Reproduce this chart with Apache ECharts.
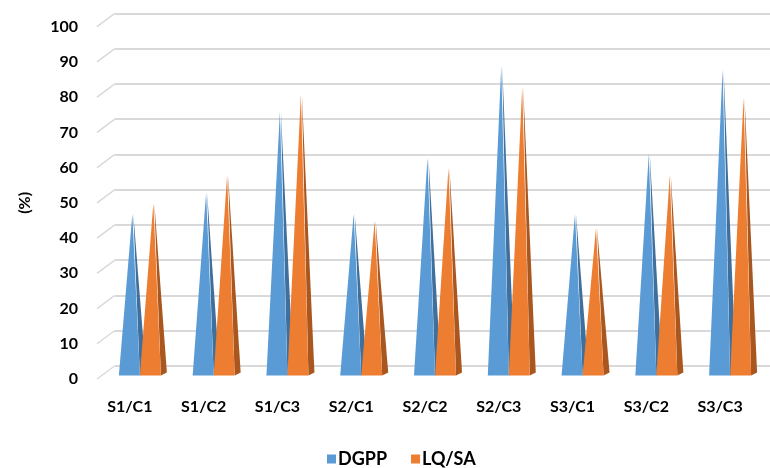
<!DOCTYPE html>
<html>
<head>
<meta charset="utf-8">
<script src="https://cdn.jsdelivr.net/npm/echarts@6/dist/echarts.min.js"></script>
<style>
  html, body { margin: 0; padding: 0; background: #fff; }
  #chart { width: 770px; height: 468px; }
</style>
</head>
<body>
<div id="chart"></div>
<script>
// categories and values
var categories = ['S1/C1', 'S1/C2', 'S1/C3', 'S2/C1', 'S2/C2', 'S2/C3', 'S3/C1', 'S3/C2', 'S3/C3'];
var dgpp = [45, 51, 74, 45, 61, 87, 45, 62, 86];
var lqsa = [48, 56, 79, 43, 58, 81, 41, 56, 78];
var yTicks = [0, 10, 20, 30, 40, 50, 60, 70, 80, 90, 100];

var FONT = 'Lato, "Liberation Sans", sans-serif';

// pyramid: front face + darker side face
function pyramid(off0, off1, face, side) {
  return function (params, api) {
    var c = api.coord([api.value(0), 0]);
    var t = api.coord([api.value(0), api.value(1)]);
    var base = c[1] - 3.5;
    var xL = c[0] + off0, xR = c[0] + off1;
    var tipX = xL + (xR - xL) * 0.64;
    var tipY = t[1] - 6.5;
    return {
      type: 'group',
      children: [
        {
          type: 'polygon',
          shape: { points: [[xR, base], [xR + 6, base - 3], [tipX + 1, tipY]] },
          style: { fill: side }
        },
        {
          type: 'polygon',
          shape: { points: [[xL, base], [xR, base], [tipX, tipY]] },
          style: { fill: face }
        }
      ]
    };
  };
}

// slanted lines joining the front labels to the back wall
function connector(params, api) {
  var p = api.coord([0, api.value(1)]);
  var x0 = params.coordSys.x + 4;
  return {
    type: 'line',
    shape: { x1: x0, y1: p[1], x2: x0 + 17.5, y2: p[1] - 13 },
    style: { stroke: '#d9d9d9', lineWidth: 1.5 }
  };
}

var myChart = echarts.init(document.getElementById('chart'));
var option = {
  backgroundColor: '#fff',
  animation: false,
  grid: [
    { left: 93, right: 13, top: 26.7, bottom: 89 },
    { left: 114.5, right: 0, top: 13.3, bottom: 102 }
  ],
  legend: {
    top: 445,
    left: 322,
    itemWidth: 9,
    itemHeight: 9,
    itemGap: 24,
    icon: 'rect',
    textStyle: { fontFamily: FONT, fontWeight: 'bold', fontSize: 18, color: '#000', padding: [0, 0, 0, -3] },
    data: [
      { name: 'DGPP', itemStyle: { color: '#5b9bd5' } },
      { name: 'LQ/SA', itemStyle: { color: '#ed7d31' } }
    ]
  },
  xAxis: [
    {
      type: 'category',
      gridIndex: 0,
      data: categories,
      axisLine: { show: false },
      axisTick: { show: false },
      axisLabel: { margin: 20, fontFamily: FONT, fontWeight: 'bold', fontSize: 16, color: '#000' }
    },
    { type: 'value', gridIndex: 1, show: false, min: 0, max: 1 }
  ],
  yAxis: [
    {
      type: 'value',
      gridIndex: 0,
      min: 0,
      max: 100,
      interval: 10,
      name: '(%)',
      nameLocation: 'middle',
      nameGap: 60,
      nameRotate: 90,
      nameTextStyle: { fontFamily: FONT, fontWeight: 'bold', fontSize: 16, color: '#000' },
      axisLine: { show: false },
      axisTick: { show: false },
      splitLine: { show: false },
      axisLabel: { margin: 15, fontFamily: FONT, fontWeight: 'bold', fontSize: 16, color: '#000' }
    },
    {
      type: 'value',
      gridIndex: 1,
      min: 0,
      max: 100,
      interval: 10,
      axisLine: { show: false },
      axisTick: { show: false },
      axisLabel: { show: false },
      splitLine: { lineStyle: { color: '#d9d9d9', width: 2 } }
    }
  ],
  series: [
    {
      type: 'custom',
      name: 'axis',
      xAxisIndex: 0,
      yAxisIndex: 0,
      silent: true,
      renderItem: connector,
      data: yTicks.map(function (v) { return [0, v]; })
    },
    {
      type: 'custom',
      name: 'DGPP',
      xAxisIndex: 0,
      yAxisIndex: 0,
      itemStyle: { color: '#5b9bd5' },
      renderItem: pyramid(-11, 10, '#5b9bd5', '#3f6f9c'),
      data: dgpp.map(function (v, i) { return [i, v]; })
    },
    {
      type: 'custom',
      name: 'LQ/SA',
      xAxisIndex: 0,
      yAxisIndex: 0,
      itemStyle: { color: '#ed7d31' },
      renderItem: pyramid(10, 31, '#ed7d31', '#a9561f'),
      data: lqsa.map(function (v, i) { return [i, v]; })
    }
  ]
};
myChart.setOption(option);
</script>
</body>
</html>
